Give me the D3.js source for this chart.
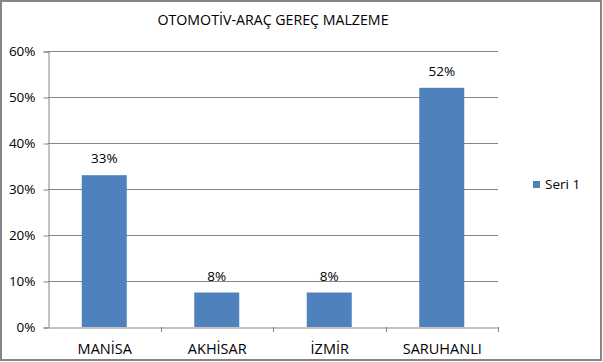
<!DOCTYPE html>
<html><head><meta charset="utf-8">
<script src="https://cdn.jsdelivr.net/npm/d3@7"></script>
<style>html,body{margin:0;padding:0;background:#fff;}svg{display:block;font-family:"Open Sans",sans-serif;}</style>
</head><body>
<script>
const title = "OTOMOTİV-ARAÇ GEREÇ MALZEME";
const categories = ["MANİSA", "AKHİSAR", "İZMİR", "SARUHANLI"];
const values = [0.33, 0.075, 0.075, 0.52];
const valueLabels = ["33%", "8%", "8%", "52%"];
const yTicks = [0, 0.1, 0.2, 0.3, 0.4, 0.5, 0.6];
const seriesName = "Seri 1";

const W = 603, H = 362;
const svg = d3.select("body").append("svg").attr("width", W).attr("height", H);
svg.append("rect").attr("x", 1).attr("y", 1).attr("width", W - 3).attr("height", H - 3)
  .attr("fill", "#fff").attr("stroke", "#868686").attr("stroke-width", 2);

const x0 = 48, x1 = 498, y0 = 327, y1 = 51;
const x = d3.scaleBand().domain(categories).range([x0, x1]).padding(0);
const y = d3.scaleLinear().domain([0, 0.6]).range([y0, y1]);
const grid = "#868686";

svg.append("g").selectAll("line").data(yTicks.slice(1)).join("line")
  .attr("x1", x0).attr("x2", x1).attr("y1", d => Math.round(y(d)) + 0.5).attr("y2", d => Math.round(y(d)) + 0.5)
  .attr("stroke", grid).attr("stroke-width", 1);

const yAxis = svg.append("g").attr("transform", `translate(${x0 + 0.5},0.5)`)
  .call(d3.axisLeft(y).tickValues(yTicks).tickFormat(d3.format(".0%")).tickSize(5).tickPadding(8));
yAxis.select(".domain").attr("stroke", grid);
yAxis.selectAll(".tick line").attr("stroke", grid);
yAxis.selectAll("text").attr("fill", "#000").style("font-size", "13.5px").style("font-family", "Open Sans, sans-serif");

const bw = x.bandwidth() * 0.4;
svg.append("g").selectAll("rect").data(values).join("rect")
  .attr("x", (d, i) => x(categories[i]) + (x.bandwidth() - bw) / 2)
  .attr("width", bw)
  .attr("y", d => y(d))
  .attr("height", d => y0 - y(d))
  .attr("fill", "#4F81BD");

svg.append("g").selectAll("text").data(values).join("text")
  .attr("x", (d, i) => x(categories[i]) + x.bandwidth() / 2)
  .attr("y", d => y(d) - 12)
  .attr("text-anchor", "middle").style("font-size", "13.5px").attr("fill", "#000")
  .text((d, i) => valueLabels[i]);

const xAxis = svg.append("g").attr("transform", `translate(0.5,${y0 + 0.5})`)
  .call(d3.axisBottom(x).tickSize(0).tickPadding(16));
xAxis.select(".domain").attr("stroke", grid);
xAxis.selectAll("text").attr("fill", "#000").style("font-size", "14.5px").style("font-family", "Open Sans, sans-serif");
svg.append("g").selectAll("line").data(categories).join("line")
  .attr("x1", d => Math.round(x(d) + x.bandwidth()) + 0.5).attr("x2", d => Math.round(x(d) + x.bandwidth()) + 0.5)
  .attr("y1", y0).attr("y2", y0 + 5).attr("stroke", grid);

svg.append("text").attr("x", 273).attr("y", 25).attr("text-anchor", "middle")
  .style("font-size", "14.2px").attr("fill", "#000").text(title);

const lg = svg.append("g").attr("transform", "translate(533,181)");
lg.append("rect").attr("width", 7).attr("height", 7).attr("fill", "#4F81BD");
lg.append("text").attr("x", 12).attr("y", 8).style("font-size", "13.5px").attr("fill", "#000").text(seriesName);
</script>
</body></html>
